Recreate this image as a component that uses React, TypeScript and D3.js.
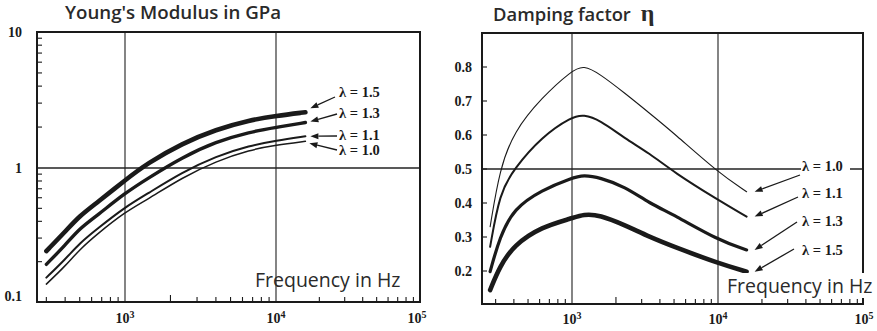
import React from "react";
import * as d3 from "d3";

// ---------- data ----------
const youngFreq = [300, 400, 500, 650, 1000, 1400, 2400, 4000, 6700, 10000, 16000];
const youngL15 = [0.24, 0.335, 0.44, 0.55, 0.81, 1.08, 1.52, 1.92, 2.25, 2.42, 2.57];
const youngL13 = [0.191, 0.265, 0.355, 0.44, 0.65, 0.83, 1.2, 1.56, 1.84, 1.99, 2.16];
const youngL11 = [0.152, 0.208, 0.275, 0.35, 0.51, 0.64, 0.93, 1.22, 1.46, 1.59, 1.71];
const youngL10 = [0.136, 0.185, 0.247, 0.32, 0.47, 0.58, 0.85, 1.12, 1.36, 1.47, 1.57];

const dampFreq = [275, 320, 400, 620, 1000, 1200, 1550, 2300, 3400, 5000, 10000, 15700];
const dampL10 = [0.33, 0.5, 0.61, 0.71, 0.79, 0.805, 0.78, 0.723, 0.664, 0.605, 0.49, 0.433];
const dampL11 = [0.271, 0.43, 0.5, 0.595, 0.654, 0.66, 0.644, 0.59, 0.546, 0.49, 0.409, 0.36];
const dampL13 = [0.198, 0.3, 0.384, 0.438, 0.474, 0.482, 0.475, 0.448, 0.399, 0.365, 0.291, 0.262];
const dampL15 = [0.144, 0.213, 0.276, 0.33, 0.355, 0.367, 0.365, 0.335, 0.3, 0.271, 0.223, 0.198];

const lambdaLabels = ["λ = 1.5", "λ = 1.3", "λ = 1.1", "λ = 1.0"];
const xMajor = [1e3, 1e4, 1e5];
const xMajorExp = ["3", "4", "5"];
const youngTicks = [10, 1, 0.1];
const youngTickLabels = ["10", "1", "0.1"];
const dampTicks = [0.2, 0.3, 0.4, 0.5, 0.6, 0.7, 0.8];

// ---------- helpers ----------
const minorX: number[] = [];
[100, 1000, 10000].forEach((d) => {
  for (let k = 2; k <= 9; k++) minorX.push(d * k);
});
const minorYLog: number[] = [];
[0.1, 1].forEach((d) => {
  for (let k = 2; k <= 9; k++) minorYLog.push(d * k);
});

const SERIF = "'Liberation Serif', 'DejaVu Serif', serif";
const SANS = "'Open Sans', 'Noto Sans', sans-serif";
const INK = "#1a1a1a";

function Arrow({ x1, y1, x2, y2 }: { x1: number; y1: number; x2: number; y2: number }) {
  const ang = Math.atan2(y2 - y1, x2 - x1);
  const L = 8;
  const W = 3;
  const bx = x2 - L * Math.cos(ang);
  const by = y2 - L * Math.sin(ang);
  const px = -Math.sin(ang) * W;
  const py = Math.cos(ang) * W;
  return (
    <g>
      <line x1={x1} y1={y1} x2={bx} y2={by} stroke={INK} strokeWidth={1.3} />
      <path d={`M${x2},${y2}L${bx + px},${by + py}L${bx - px},${by - py}Z`} fill={INK} />
    </g>
  );
}

function ExpLabel({ x, y, exp }: { x: number; y: number; exp: string }) {
  return (
    <text x={x} y={y} textAnchor="middle" fontFamily={SERIF} fontWeight="bold" fontSize={14} fill={INK}>
      10<tspan dy={-5} fontSize={10}>{exp}</tspan>
    </text>
  );
}

export default function App() {
  // ---------------- Left: Young's modulus ----------------
  const xL = d3.scaleLog().domain([260, 1e3, 1e4, 1e5]).range([37, 125, 276, 420]);
  const yL = d3.scaleLog().domain([0.1, 1, 10]).range([302, 168, 32]);
  const Lframe = { x0: 37, x1: 420, y0: 32, y1: 302 };

  const youngSeries = [youngL15, youngL13, youngL11, youngL10];
  const youngWidths = [4.6, 3.4, 2.0, 1.5];
  const lineL = d3
    .line<[number, number]>()
    .x((d) => xL(d[0]))
    .y((d) => yL(d[1]))
    .curve(d3.curveBasis);

  // label layout (annotations)
  const youngLabelY = [92, 113, 135, 150];
  const youngTail = [
    [335, 97],
    [337, 114],
    [337, 136],
    [337, 150],
  ];
  const youngTipOff = [
    [5, -4],
    [5, -1],
    [5, 0],
    [4, 2],
  ];

  // ---------------- Right: damping ----------------
  const xR = d3.scaleLog().domain([242, 1e3, 1e4, 1e5]).range([482, 572, 718, 864]);
  const yR = d3.scaleLinear().domain([0.1, 0.9]).range([305, 33]);
  const Rframe = { x0: 482, x1: 863, y0: 33, y1: 304 };

  const dampSeries = [dampL10, dampL11, dampL13, dampL15];
  const dampWidths = [1.1, 2.0, 3.2, 4.6];
  const dampLabels = ["λ = 1.0", "λ = 1.1", "λ = 1.3", "λ = 1.5"];
  const lineR = d3
    .line<[number, number]>()
    .x((d) => xR(d[0]))
    .y((d) => yR(d[1]))
    .curve(d3.curveBasis);
  const dampLabelY = [166, 193, 221, 250];
  const dampTail = [
    [800, 175],
    [798, 197],
    [797, 222],
    [794, 249],
  ];

  return (
    <svg
      width={877}
      height={331}
      viewBox="0 0 877 331"
      style={{ position: "absolute", left: 0, top: 0, background: "#fff" }}
    >
      <rect x={0} y={0} width={877} height={331} fill="#fff" />

      {/* ===== Left panel ===== */}
      <text x={65} y={19} fontFamily={SANS} fontWeight={600} fontSize={18.7} fill="#2a2a2a">
        Young's Modulus in GPa
      </text>

      {/* grid */}
      {[1e3, 1e4].map((v) => (
        <line key={v} x1={xL(v)} x2={xL(v)} y1={Lframe.y0} y2={Lframe.y1} stroke="#333" strokeWidth={1.2} />
      ))}
      <line x1={Lframe.x0} x2={Lframe.x1} y1={yL(1)} y2={yL(1)} stroke="#222" strokeWidth={1.4} />

      {/* minor ticks */}
      {minorX
        .filter((v) => v >= 300)
        .map((v) => (
          <line key={"mx" + v} x1={xL(v)} x2={xL(v)} y1={Lframe.y1} y2={Lframe.y1 - (v === 2000 ? 7 : 5)} stroke={INK} strokeWidth={1.1} />
        ))}
      {minorYLog.map((v) => (
        <line key={"my" + v} x1={Lframe.x0} x2={Lframe.x0 + 5} y1={yL(v)} y2={yL(v)} stroke={INK} strokeWidth={1.1} />
      ))}

      {/* frame */}
      <rect x={Lframe.x0} y={Lframe.y0} width={Lframe.x1 - Lframe.x0} height={Lframe.y1 - Lframe.y0} fill="none" stroke={INK} strokeWidth={2} />

      {/* curves */}
      {youngSeries.map((s, i) => (
        <path
          key={"yc" + i}
          d={lineL(youngFreq.map((f, j) => [f, s[j]] as [number, number])) || ""}
          fill="none"
          stroke={INK}
          strokeWidth={youngWidths[i]}
          strokeLinecap="round"
        />
      ))}

      {/* annotations */}
      {youngSeries.map((s, i) => {
        const ex = xL(youngFreq[youngFreq.length - 1]);
        const ey = yL(s[s.length - 1]);
        return (
          <g key={"ya" + i}>
            <Arrow x1={youngTail[i][0]} y1={youngTail[i][1]} x2={ex + youngTipOff[i][0]} y2={ey + youngTipOff[i][1]} />
            <text x={339} y={youngLabelY[i]} dy="0.35em" fontFamily={SERIF} fontWeight="bold" fontSize={14.5} fill={INK}>
              {lambdaLabels[i]}
            </text>
          </g>
        );
      })}

      <text x={255} y={287} fontFamily={SANS} fontSize={19.5} fill="#2a2a2a">
        Frequency in Hz
      </text>

      {/* axis labels */}
      {youngTicks.map((v, i) => (
        <text key={"yt" + v} x={22} y={yL(v) - (v < 0.5 ? 6 : 0)} dy="0.35em" textAnchor="end" fontFamily={SERIF} fontWeight="bold" fontSize={14} fill={INK}>
          {youngTickLabels[i]}
        </text>
      ))}
      {xMajor.map((v, i) => (
        <ExpLabel key={"lx" + v} x={i === 2 ? Lframe.x1 - 3 : xL(v)} y={323} exp={xMajorExp[i]} />
      ))}

      {/* ===== Right panel ===== */}
      <text x={493} y={20.5} fontFamily={SANS} fontWeight={600} fontSize={18.4} fill="#2a2a2a">
        Damping factor
        <tspan dx={10} fontFamily={SERIF} fontWeight="bold" fontSize={24}>η</tspan>
      </text>

      {[1e3, 1e4].map((v) => (
        <line key={"rg" + v} x1={xR(v)} x2={xR(v)} y1={Rframe.y0} y2={Rframe.y1} stroke="#333" strokeWidth={1.2} />
      ))}
      <line x1={Rframe.x0} x2={Rframe.x1} y1={yR(0.5)} y2={yR(0.5)} stroke="#222" strokeWidth={1.4} />

      {minorX
        .filter((v) => v >= 300)
        .map((v) => (
          <line key={"rmx" + v} x1={xR(v)} x2={xR(v)} y1={Rframe.y1} y2={Rframe.y1 - (v === 2000 ? 7 : 5)} stroke={INK} strokeWidth={1.1} />
        ))}
      {dampTicks.map((v) => (
        <line key={"rmy" + v} x1={Rframe.x0} x2={Rframe.x0 + 5} y1={yR(v)} y2={yR(v)} stroke={INK} strokeWidth={1.1} />
      ))}

      <rect x={Rframe.x0} y={Rframe.y0} width={Rframe.x1 - Rframe.x0} height={Rframe.y1 - Rframe.y0} fill="none" stroke={INK} strokeWidth={2} />

      {dampSeries.map((s, i) => (
        <path
          key={"rc" + i}
          d={lineR(dampFreq.map((f, j) => [f, s[j]] as [number, number])) || ""}
          fill="none"
          stroke={INK}
          strokeWidth={dampWidths[i]}
          strokeLinecap="round"
        />
      ))}

      {dampSeries.map((s, i) => {
        const ex = xR(dampFreq[dampFreq.length - 1]);
        const ey = yR(s[s.length - 1]);
        return (
          <g key={"ra" + i}>
            {i === 0 && <rect x={801} y={dampLabelY[i] - 8} width={49} height={16} fill="#fff" />}
            <Arrow x1={dampTail[i][0]} y1={dampTail[i][1]} x2={ex + 8} y2={ey} />
            <text x={802} y={dampLabelY[i]} dy="0.35em" fontFamily={SERIF} fontWeight="bold" fontSize={14.5} fill={INK}>
              {dampLabels[i]}
            </text>
          </g>
        );
      })}

      <rect x={726} y={273} width={151} height={25} fill="#fff" />
      <text x={727} y={293} fontFamily={SANS} fontSize={19.5} fill="#2a2a2a">
        Frequency in Hz
      </text>

      {dampTicks.map((v) => (
        <text key={"rt" + v} x={472} y={yR(v)} dy="0.35em" textAnchor="end" fontFamily={SERIF} fontWeight="bold" fontSize={14} fill={INK}>
          {v.toFixed(1)}
        </text>
      ))}
      {xMajor.map((v, i) => (
        <ExpLabel key={"rx" + v} x={xR(v)} y={324} exp={xMajorExp[i]} />
      ))}
    </svg>
  );
}
